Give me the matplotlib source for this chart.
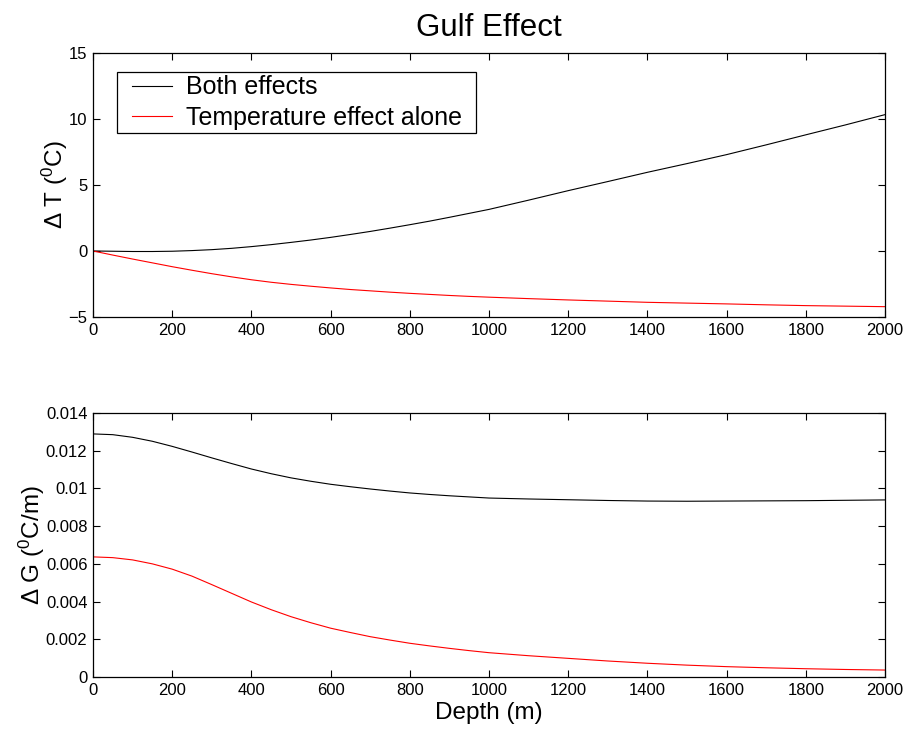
# Gulf effect: temperature and gradient change with depth
import numpy as np
import matplotlib

matplotlib.use("Agg")
import matplotlib.pyplot as plt
from matplotlib.ticker import FuncFormatter
from matplotlib.legend_handler import HandlerLine2D
from matplotlib.lines import Line2D

plt.rcParams["font.family"] = ["Liberation Sans", "DejaVu Sans"]
plt.rcParams["mathtext.fontset"] = "custom"
plt.rcParams["mathtext.rm"] = "Liberation Sans"
plt.rcParams["mathtext.it"] = "Liberation Sans:italic"
plt.rcParams["mathtext.bf"] = "Liberation Sans:bold"

# depth (m)
depth = [0, 50, 100, 150, 200, 250, 300, 350, 400, 450, 500, 550, 600, 650,
         700, 750, 800, 850, 900, 950, 1000,
         1100, 1200, 1300, 1400, 1500, 1600, 1700, 1800, 1900, 2000]

# temperature change (degC)
dT_both = [0.0, -0.02, -0.04, -0.04, -0.02, 0.03, 0.1, 0.2, 0.33, 0.48, 0.65,
           0.83, 1.03, 1.25, 1.48, 1.73, 1.99, 2.26, 2.55, 2.85, 3.15,
           3.85, 4.57, 5.26, 5.96, 6.62, 7.3, 8.04, 8.8, 9.55, 10.33]
dT_temp = [0.0, -0.31, -0.61, -0.9, -1.19, -1.46, -1.72, -1.96, -2.18, -2.37, -2.53,
           -2.67, -2.8, -2.92, -3.02, -3.12, -3.21, -3.29, -3.37, -3.44, -3.5,
           -3.61, -3.71, -3.8, -3.89, -3.95, -4.01, -4.08, -4.14, -4.18, -4.22]

# gradient change (degC/m)
dG_both = [0.01289, 0.01285, 0.01271, 0.0125, 0.01223, 0.01193, 0.01162, 0.01132,
           0.01103, 0.01078, 0.01056, 0.01038, 0.01022, 0.01009, 0.00997, 0.00986,
           0.00976, 0.00968, 0.00961, 0.00955, 0.00949,
           0.00944, 0.0094, 0.00936, 0.00933, 0.00932, 0.00933, 0.00934, 0.00935,
           0.00937, 0.00939]
dG_temp = [0.00637, 0.00633, 0.00621, 0.006, 0.00572, 0.00535, 0.0049, 0.00444,
           0.00398, 0.00357, 0.0032, 0.00288, 0.00259, 0.00236, 0.00214, 0.00196,
           0.00179, 0.00165, 0.00152, 0.0014, 0.00129,
           0.00113, 0.00099, 0.00085, 0.00073, 0.00063, 0.00055, 0.00049, 0.00044,
           0.0004, 0.00037]

labels = ["Both effects", "Temperature effect alone"]
xticks = np.arange(0, 2001, 200)

fig = plt.figure(figsize=(9.06, 7.29), dpi=100)
ax1 = fig.add_axes([0.1026, 0.5652, 0.8742, 0.3621])
ax2 = fig.add_axes([0.1026, 0.0713, 0.8742, 0.3622])

ax1.plot(depth, dT_both, color="black", lw=0.8, label=labels[0])
ax1.plot(depth, dT_temp, color="red", lw=0.8, label=labels[1])
ax2.plot(depth, dG_both, color="black", lw=0.8)
ax2.plot(depth, dG_temp, color="red", lw=0.8)

ax1.set_ylim(-5, 15)
ax1.set_yticks([-5, 0, 5, 10, 15])
ax2.set_ylim(0, 0.014)
ax2.set_yticks(np.arange(0, 0.0141, 0.002))
ax2.yaxis.set_major_formatter(FuncFormatter(lambda v, p: "%g" % round(v, 4)))

for ax in (ax1, ax2):
    ax.set_xlim(0, 2000)
    ax.set_xticks(xticks)
    ax.tick_params(direction="in", length=5, width=0.8, top=True, right=True,
                   labelsize=12, pad=4)
    for s in ax.spines.values():
        s.set_linewidth(0.9)

ax1.set_title("Gulf Effect", fontsize=22.5, pad=12)
ax1.set_ylabel(r"$\Delta$ T ($^0$C)", fontsize=17.5, labelpad=-1)
ax2.set_ylabel(r"$\Delta$ G ($^0$C/m)", fontsize=17.5, labelpad=-1)
ax2.set_xlabel("Depth (m)", fontsize=17.5, labelpad=3.5)

leg = ax1.legend(loc="upper left", bbox_to_anchor=(0.0303, 0.5, 0.4533, 0.429),
                 mode="expand", borderaxespad=0,
                 fontsize=18, fancybox=False, framealpha=1, edgecolor="black",
                 handlelength=2.04, handletextpad=0.57, borderpad=0.15,
                 labelspacing=0.25,
                 handler_map={Line2D: HandlerLine2D(xpad=0.44)})
leg.get_frame().set_linewidth(0.9)

fig.savefig("out.png", dpi=100)
plt.close(fig)
